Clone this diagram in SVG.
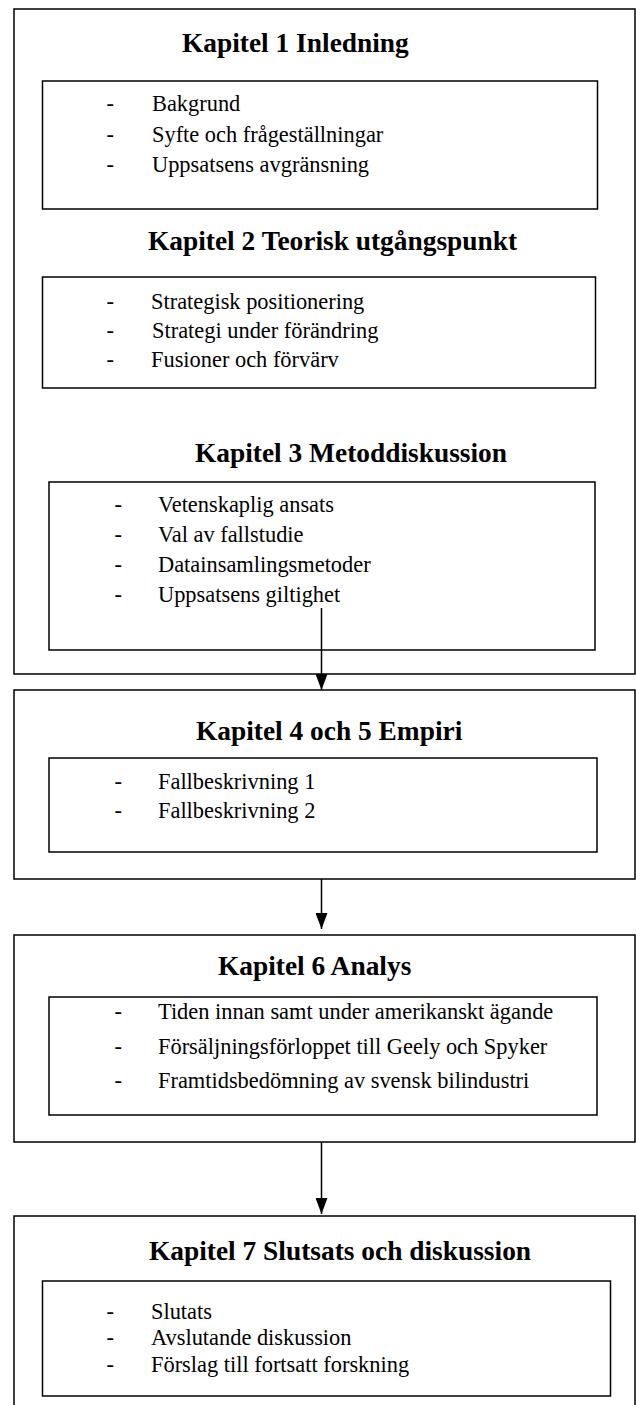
<svg xmlns="http://www.w3.org/2000/svg" width="636" height="1405" viewBox="0 0 636 1405">
  <style>
    .frame { fill: #ffffff; stroke: #000000; stroke-width: 1.5; }
    .inner { fill: none; stroke: #000000; stroke-width: 1.5; }
    .title { font-family: "Liberation Serif", "Times New Roman", serif; font-weight: bold; font-size: 27.4px; fill: #000000; }
    .item { font-family: "Liberation Serif", "Times New Roman", serif; font-size: 22.4px; fill: #000000; }
    .link { stroke: #000000; stroke-width: 1.5; fill: none; }
  </style>
  <defs>
    <!-- filled triangular arrowhead, drawn along +x so orient="auto" follows the line -->
    <marker id="head" markerUnits="userSpaceOnUse" markerWidth="16" markerHeight="12" viewBox="0 0 16 12" refX="16" refY="6" orient="auto">
      <path d="M0,0 L16,6 L0,12 Z" fill="#000000"/>
    </marker>
  </defs>

  <rect x="0" y="0" width="636" height="1405" fill="#ffffff"/>

  <!-- Chapters 1-3 share one frame -->
  <g id="kapitel-1-3">
    <rect class="frame" x="14" y="9" width="621" height="665"/>

    <g id="kapitel-1">
      <text class="title" x="182" y="52">Kapitel 1 Inledning</text>
      <rect class="inner" x="42.5" y="81" width="555" height="128"/>
      <text class="item" x="106.5" y="111">-</text>
      <text class="item" x="152" y="111">Bakgrund</text>
      <text class="item" x="106.5" y="141.5">-</text>
      <text class="item" x="152" y="141.5">Syfte och frågeställningar</text>
      <text class="item" x="106.5" y="171.5">-</text>
      <text class="item" x="152" y="171.5">Uppsatsens avgränsning</text>
    </g>

    <g id="kapitel-2">
      <text class="title" x="148" y="250">Kapitel 2 Teorisk utgångspunkt</text>
      <rect class="inner" x="42.5" y="277" width="553" height="111"/>
      <text class="item" x="106.5" y="309">-</text>
      <text class="item" x="151" y="309">Strategisk positionering</text>
      <text class="item" x="106.5" y="338">-</text>
      <text class="item" x="152" y="338">Strategi under förändring</text>
      <text class="item" x="106.5" y="367">-</text>
      <text class="item" x="151" y="367">Fusioner och förvärv</text>
    </g>

    <g id="kapitel-3">
      <text class="title" x="195" y="462">Kapitel 3 Metoddiskussion</text>
      <rect class="inner" x="49" y="482" width="546" height="168"/>
      <text class="item" x="114.5" y="512">-</text>
      <text class="item" x="158" y="512">Vetenskaplig ansats</text>
      <text class="item" x="114.5" y="542">-</text>
      <text class="item" x="158" y="542">Val av fallstudie</text>
      <text class="item" x="114.5" y="572">-</text>
      <text class="item" x="158" y="572">Datainsamlingsmetoder</text>
      <text class="item" x="114.5" y="602">-</text>
      <text class="item" x="158" y="602">Uppsatsens giltighet</text>
    </g>
  </g>

  <g id="kapitel-4-5">
    <rect class="frame" x="14" y="690" width="621" height="189"/>
    <text class="title" x="196" y="740">Kapitel 4 och 5 Empiri</text>
    <rect class="inner" x="49" y="758" width="548" height="94"/>
    <text class="item" x="114.5" y="789">-</text>
    <text class="item" x="158" y="789">Fallbeskrivning 1</text>
    <text class="item" x="114.5" y="818">-</text>
    <text class="item" x="158" y="818">Fallbeskrivning 2</text>
  </g>

  <g id="kapitel-6">
    <rect class="frame" x="14" y="935" width="621" height="207"/>
    <text class="title" x="218" y="975">Kapitel 6 Analys</text>
    <rect class="inner" x="49" y="997" width="548" height="118"/>
    <text class="item" x="114.5" y="1019">-</text>
    <text class="item" x="158" y="1019">Tiden innan samt under amerikanskt ägande</text>
    <text class="item" x="114.5" y="1054">-</text>
    <text class="item" x="158" y="1054">Försäljningsförloppet till Geely och Spyker</text>
    <text class="item" x="114.5" y="1088">-</text>
    <text class="item" x="158" y="1088">Framtidsbedömning av svensk bilindustri</text>
  </g>

  <g id="kapitel-7">
    <rect class="frame" x="14" y="1216" width="621" height="200"/>
    <text class="title" x="149" y="1260">Kapitel 7 Slutsats och diskussion</text>
    <rect class="inner" x="42.5" y="1281" width="568" height="115"/>
    <text class="item" x="106.5" y="1319">-</text>
    <text class="item" x="151" y="1319">Slutats</text>
    <text class="item" x="106.5" y="1345">-</text>
    <text class="item" x="151" y="1345">Avslutande diskussion</text>
    <text class="item" x="106.5" y="1372">-</text>
    <text class="item" x="151" y="1372">Förslag till fortsatt forskning</text>
  </g>

  <g id="connectors">
    <line class="link" x1="321.5" y1="608" x2="321.5" y2="690" marker-end="url(#head)"/>
    <line class="link" x1="321.5" y1="879" x2="321.5" y2="929" marker-end="url(#head)"/>
    <line class="link" x1="321.5" y1="1142" x2="321.5" y2="1214" marker-end="url(#head)"/>
  </g>
</svg>
